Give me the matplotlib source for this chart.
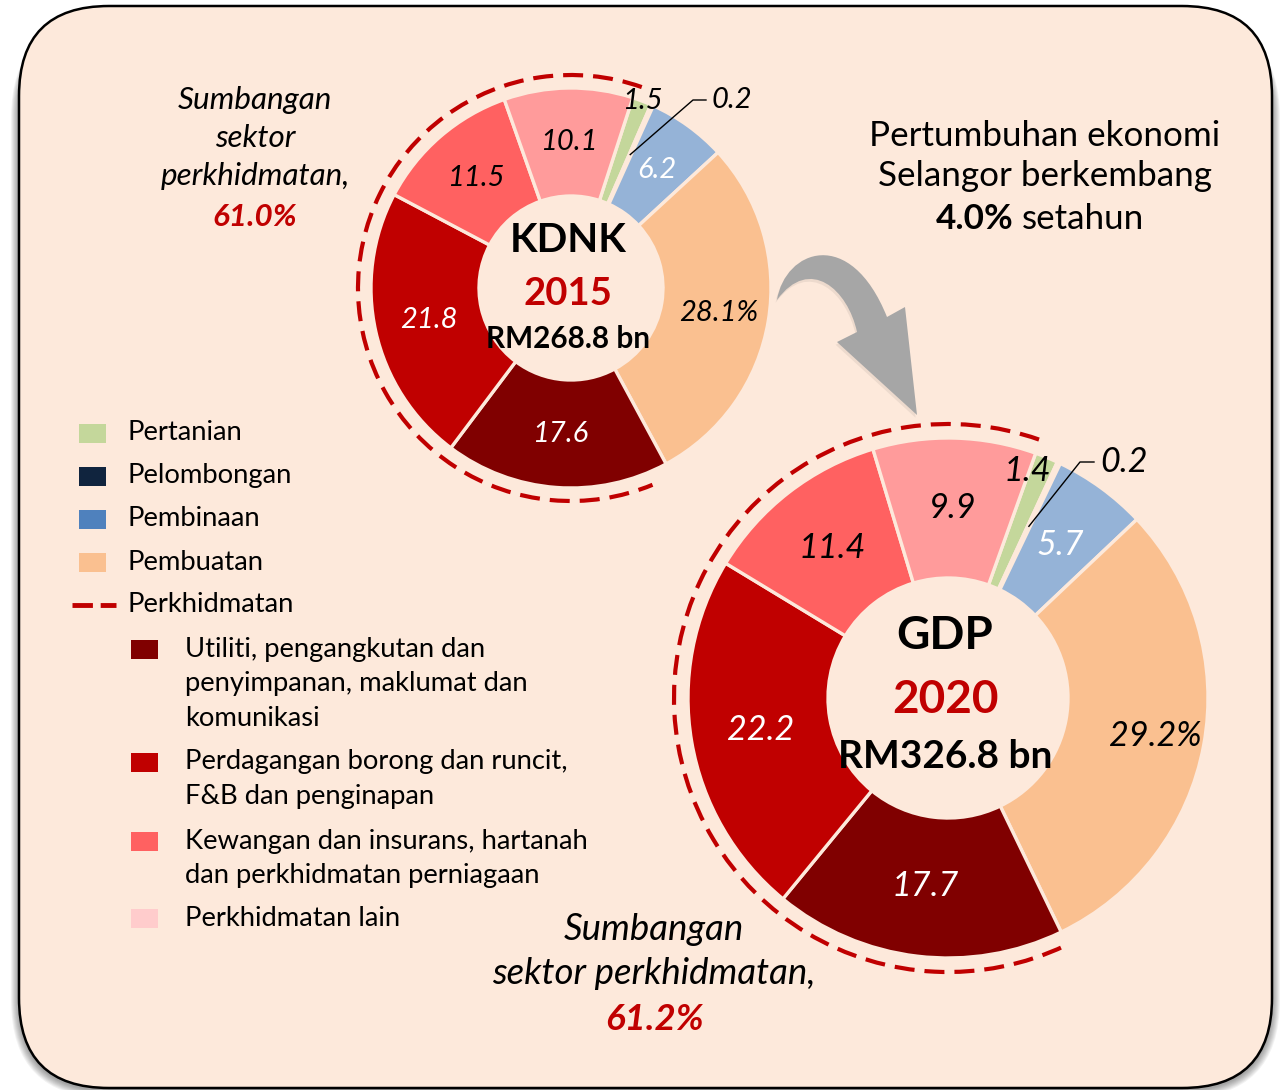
import numpy as np
import matplotlib
matplotlib.use('Agg')
import matplotlib.pyplot as plt
from matplotlib.patches import FancyBboxPatch, Rectangle, Arc, PathPatch
from matplotlib.path import Path
import matplotlib.patheffects as pe

plt.rcParams['font.family'] = ['Lato', 'DejaVu Sans']

# ---- data ----
sectors = ['Pertanian', 'Pelombongan', 'Pembinaan', 'Pembuatan',
           'Utiliti, pengangkutan dan\npenyimpanan, maklumat dan\nkomunikasi',
           'Perdagangan borong dan runcit,\nF&B dan penginapan',
           'Kewangan dan insurans, hartanah\ndan perkhidmatan perniagaan',
           'Perkhidmatan lain']
share_2015 = [1.5, 0.2, 6.2, 28.1, 17.6, 21.8, 11.5, 10.1]
share_2020 = [1.4, 0.2, 5.7, 29.2, 17.7, 22.2, 11.4, 9.9]
gdp_total = [268.8, 326.8]
years = ['2015', '2020']
titles = ['KDNK', 'GDP']
growth = 4.0

pie_colors = ['#C4D79B', '#10243E', '#95B3D7', '#FAC090',
              '#800000', '#C00000', '#FF6161', '#FF9B9B']
legend_colors = ['#C4D79B', '#10243E', '#4F81BD', '#FAC090',
                 '#800000', '#C00000', '#FF6161', '#FFCCCC']
label_colors = ['black', 'black', 'white', 'black', 'white', 'white', 'black', 'black']

BG = '#FDE9DB'
RED = '#C00000'
W, H = 1281, 1090


def Y(y):
    return H - y


fig = plt.figure(figsize=(W / 100, H / 100), dpi=100)
fig.patch.set_facecolor('white')
ax = fig.add_axes([0, 0, 1, 1])

# rounded panel with soft shadow
for k in range(1, 9):
    ax.add_patch(FancyBboxPatch((19 - k, Y(1088) - k - 2), 1253 + 2 * k, 1070 + k,
                                boxstyle='round,pad=0,rounding_size=%d' % (90 + k),
                                fc='black', ec='none', alpha=0.05, zorder=0))
ax.add_patch(FancyBboxPatch((19, Y(1088)), 1253, 1082,
                            boxstyle='round,pad=0,rounding_size=90',
                            fc=BG, ec='black', lw=1.8, zorder=1))

# donuts
donuts = [
    dict(vals=share_2015, cx=571, cy=288, R=200, w=108, start=72, fs=21,
         arc=(70.6, 292.5), arcR=213, tfs=(29, 27.5, 21.4), ty=(240, 294, 339),
         green=(1.0, 0), peach=0.75, lead=((693, 100), (706, 100))),
    dict(vals=share_2020, cx=948, cy=698, R=260, w=140, start=70.3, fs=24.6,
         arc=(70.6, 295.3), arcR=274, tfs=(33, 33, 28), ty=(636, 700, 757),
         green=(0.925, 3), peach=0.81, lead=((1080, 462), (1094, 462))),
]

for n, d in enumerate(donuts):
    wedges, _ = ax.pie(d['vals'], colors=pie_colors, startangle=d['start'],
                       counterclock=False, radius=d['R'], center=(d['cx'], Y(d['cy'])),
                       wedgeprops=dict(width=d['w'], edgecolor=BG, linewidth=2.4),
                       frame=True)
    for w in wedges:
        w.set_zorder(3)
    ax.add_patch(Arc((d['cx'], Y(d['cy'])), 2 * d['arcR'], 2 * d['arcR'],
                     theta1=d['arc'][0], theta2=d['arc'][1], color=RED, lw=3,
                     linestyle=(0, (4.8, 2.4)), zorder=2))
    R = d['R']
    for i, w in enumerate(wedges):
        ang = np.deg2rad((w.theta1 + w.theta2) / 2)
        txt = '%.1f' % d['vals'][i]
        frac = 0.73
        if i == 0:
            frac = d['green'][0]
            ang = ang + np.deg2rad(d['green'][1])
        if i == 3:
            frac = d['peach']
            txt += '%'
        x = d['cx'] + frac * R * np.cos(ang)
        y = Y(d['cy']) + frac * R * np.sin(ang)
        if i == 1:
            (ex, ey), (fx, fy) = d['lead']
            ax.plot([x, ex, fx], [y, Y(ey), Y(fy)], color='black', lw=1.0, zorder=5)
            ax.text(fx + 6, Y(fy), txt, fontsize=d['fs'], style='italic',
                    ha='left', va='center', zorder=6)
            continue
        ax.text(x, y, txt, fontsize=d['fs'], style='italic', color=label_colors[i],
                ha='center', va='center', zorder=6)
    cx = d['cx'] - 3
    ax.text(cx, Y(d['ty'][0]), titles[n], fontsize=d['tfs'][0], fontweight='bold',
            ha='center', va='center', zorder=6)
    ax.text(cx, Y(d['ty'][1]), years[n], fontsize=d['tfs'][1], fontweight='bold',
            color=RED, ha='center', va='center', zorder=6)
    ax.text(cx, Y(d['ty'][2]), 'RM%.1f bn' % gdp_total[n], fontsize=d['tfs'][2],
            fontweight='bold', ha='center', va='center', zorder=6)

# services annotations
svc = [sum(share_2015[4:]), sum(share_2020[4:])]
for s, yy in zip(['Sumbangan', 'sektor', 'perkhidmatan,'], [100, 138, 176]):
    ax.text(255, Y(yy), s, fontsize=22.6, style='italic', ha='center', va='center')
ax.text(255, Y(217), '%.1f%%' % svc[0], fontsize=22.6, style='italic', fontweight='bold',
        color=RED, ha='center', va='center')
for s, yy in zip(['Sumbangan', 'sektor perkhidmatan,'], [929, 973]):
    ax.text(654, Y(yy), s, fontsize=26.4, style='italic', ha='center', va='center')
ax.text(654, Y(1020), '%.1f%%' % svc[1], fontsize=26.4, style='italic', fontweight='bold',
        color=RED, ha='center', va='center')

# growth note
ax.text(1045, Y(136), 'Pertumbuhan ekonomi', fontsize=25.2, ha='center', va='center')
ax.text(1045, Y(176), 'Selangor berkembang', fontsize=25.2, ha='center', va='center')
ax.text(1014, Y(219), '%.1f%%' % growth, fontsize=25.2, fontweight='bold',
        ha='right', va='center')
ax.text(1022, Y(219), 'setahun', fontsize=25.2, ha='left', va='center')

# curved arrow
verts = [(777, 300), (785, 250), (850, 225), (887, 317),
         (905, 307), (917, 415), (837, 342), (857, 332),
         (848, 290), (810, 255), (777, 300), (777, 300)]
codes = [Path.MOVETO, Path.CURVE4, Path.CURVE4, Path.CURVE4,
         Path.LINETO, Path.LINETO, Path.LINETO, Path.LINETO,
         Path.CURVE4, Path.CURVE4, Path.CURVE4, Path.CLOSEPOLY]
arrow = PathPatch(Path([(x, Y(y)) for x, y in verts], codes), fc='#A6A6A6', ec='none',
                  zorder=4)
arrow.set_path_effects([pe.SimplePatchShadow(offset=(-1, -2), alpha=0.08), pe.Normal()])
ax.add_patch(arrow)

# legend
lfs = 19.7
main_y = [433, 476, 519, 562]
for i, yy in enumerate(main_y):
    ax.add_patch(Rectangle((79, Y(yy) - 9.5), 27, 19, fc=legend_colors[i], ec='none'))
    ax.text(128, Y(yy), sectors[i], fontsize=lfs, ha='left', va='center')
ax.plot([72, 116], [Y(605), Y(605)], color=RED, lw=3.5, linestyle=(0, (4.2, 1.6)))
ax.text(128, Y(605), 'Perkhidmatan', fontsize=lfs, ha='left', va='center')
sub_y = [649, 762, 841, 918]
for j, yy in enumerate(sub_y):
    i = 4 + j
    ax.add_patch(Rectangle((131, Y(yy) - 9.5), 27, 19, fc=legend_colors[i], ec='none'))
    for k, line in enumerate(sectors[i].split('\n')):
        ax.text(185, Y(yy + 34.8 * k), line, fontsize=lfs, ha='left', va='center')

ax.set_xlim(0, W)
ax.set_ylim(0, H)
ax.set_aspect('equal')
ax.axis('off')
fig.savefig('out.png', dpi=100, facecolor='white')
